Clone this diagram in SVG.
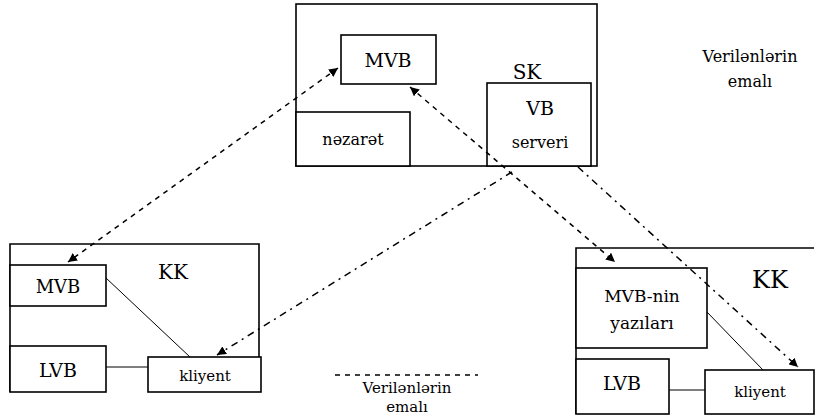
<svg xmlns="http://www.w3.org/2000/svg" width="816" height="416" viewBox="0 0 816 416">
<defs>
<style>
.box{fill:#fff;stroke:#000;stroke-width:1.6}
.t{font-family:'DejaVu Serif','Liberation Serif',serif;fill:#000;text-anchor:middle}
.dash{fill:none;stroke:#000;stroke-width:1.5;stroke-dasharray:5 5}
.dd{fill:none;stroke:#000;stroke-width:1.5;stroke-dasharray:7 5 2 5}
.ln{fill:none;stroke:#000;stroke-width:1}
</style>
<marker id="ah" viewBox="0 0 10 10" refX="10" refY="5" markerWidth="9" markerHeight="9" markerUnits="userSpaceOnUse" orient="auto-start-reverse">
<path d="M0,0 L10,5 L0,10 z" fill="#000"/>
</marker>
</defs>
<rect width="816" height="416" fill="#fff"/>
<g id="sk">
<rect class="box" x="296" y="4" width="301" height="162"/>
<text class="t" x="527" y="79" font-size="20">SK</text>
</g>
<g id="sk-mvb">
<rect class="box" x="341" y="35" width="95" height="49"/>
<text class="t" x="388" y="67" font-size="19">MVB</text>
</g>
<g id="vb-serveri">
<rect class="box" x="487" y="83" width="104" height="83"/>
<text class="t" x="540" y="115" font-size="19">VB</text>
<text class="t" x="540" y="148" font-size="16">serveri</text>
</g>
<g id="nezaret">
<rect class="box" x="296" y="112" width="114" height="54"/>
<text class="t" x="353" y="145" font-size="16">nəzarət</text>
</g>
<g id="label-top">
<text class="t" x="750" y="62" font-size="16">Verilənlərin</text>
<text class="t" x="750" y="87" font-size="16">emalı</text>
</g>
<g id="kk-left">
<path class="box" d="M10,392 V244 H259 V357"/>
<text class="t" x="173" y="279" font-size="20">KK</text>
</g>
<g id="mvb-left">
<rect class="box" x="10" y="265" width="96" height="41"/>
<text class="t" x="58" y="293" font-size="18">MVB</text>
</g>
<g id="lvb-left">
<rect class="box" x="10" y="346" width="96" height="46"/>
<text class="t" x="58" y="377" font-size="19">LVB</text>
</g>
<g id="kliyent-left">
<rect class="box" x="148" y="357" width="113" height="35"/>
<text class="t" x="205" y="381" font-size="15">kliyent</text>
</g>
<g id="kk-right">
<path class="box" d="M576,414 V248 H814"/>
<text class="t" x="770" y="288" font-size="24">KK</text>
</g>
<g id="mvb-nin">
<rect class="box" x="576" y="268" width="131" height="80"/>
<text class="t" x="642" y="302" font-size="17">MVB-nin</text>
<text class="t" x="642" y="329" font-size="17">yazıları</text>
</g>
<g id="lvb-right">
<rect class="box" x="576" y="359" width="93" height="55"/>
<text class="t" x="622" y="390" font-size="19">LVB</text>
</g>
<g id="kliyent-right">
<rect class="box" x="705" y="370" width="109" height="44"/>
<text class="t" x="760" y="397" font-size="15">kliyent</text>
</g>
<g id="label-bottom">
<line class="dash" x1="335" y1="375" x2="478" y2="375" stroke-width="1.2"/>
<text class="t" x="407" y="393" font-size="15">Verilənlərin</text>
<text class="t" x="407" y="412" font-size="15">emalı</text>
</g>
<g id="connectors">
<line class="dash" x1="338" y1="68" x2="68" y2="262" marker-start="url(#ah)" marker-end="url(#ah)"/>
<line class="dash" x1="410" y1="87" x2="615" y2="262" marker-start="url(#ah)" marker-end="url(#ah)"/>
<line class="dd" x1="512" y1="172" x2="217" y2="355" marker-end="url(#ah)"/>
<line class="dd" x1="578" y1="167" x2="798" y2="367" marker-end="url(#ah)"/>
<line class="ln" x1="106" y1="278" x2="190" y2="357"/>
<line class="ln" x1="106" y1="367" x2="148" y2="367"/>
<line class="ln" x1="707" y1="312" x2="763" y2="370"/>
<line class="ln" x1="669" y1="390" x2="705" y2="390"/>
</g>
</svg>
